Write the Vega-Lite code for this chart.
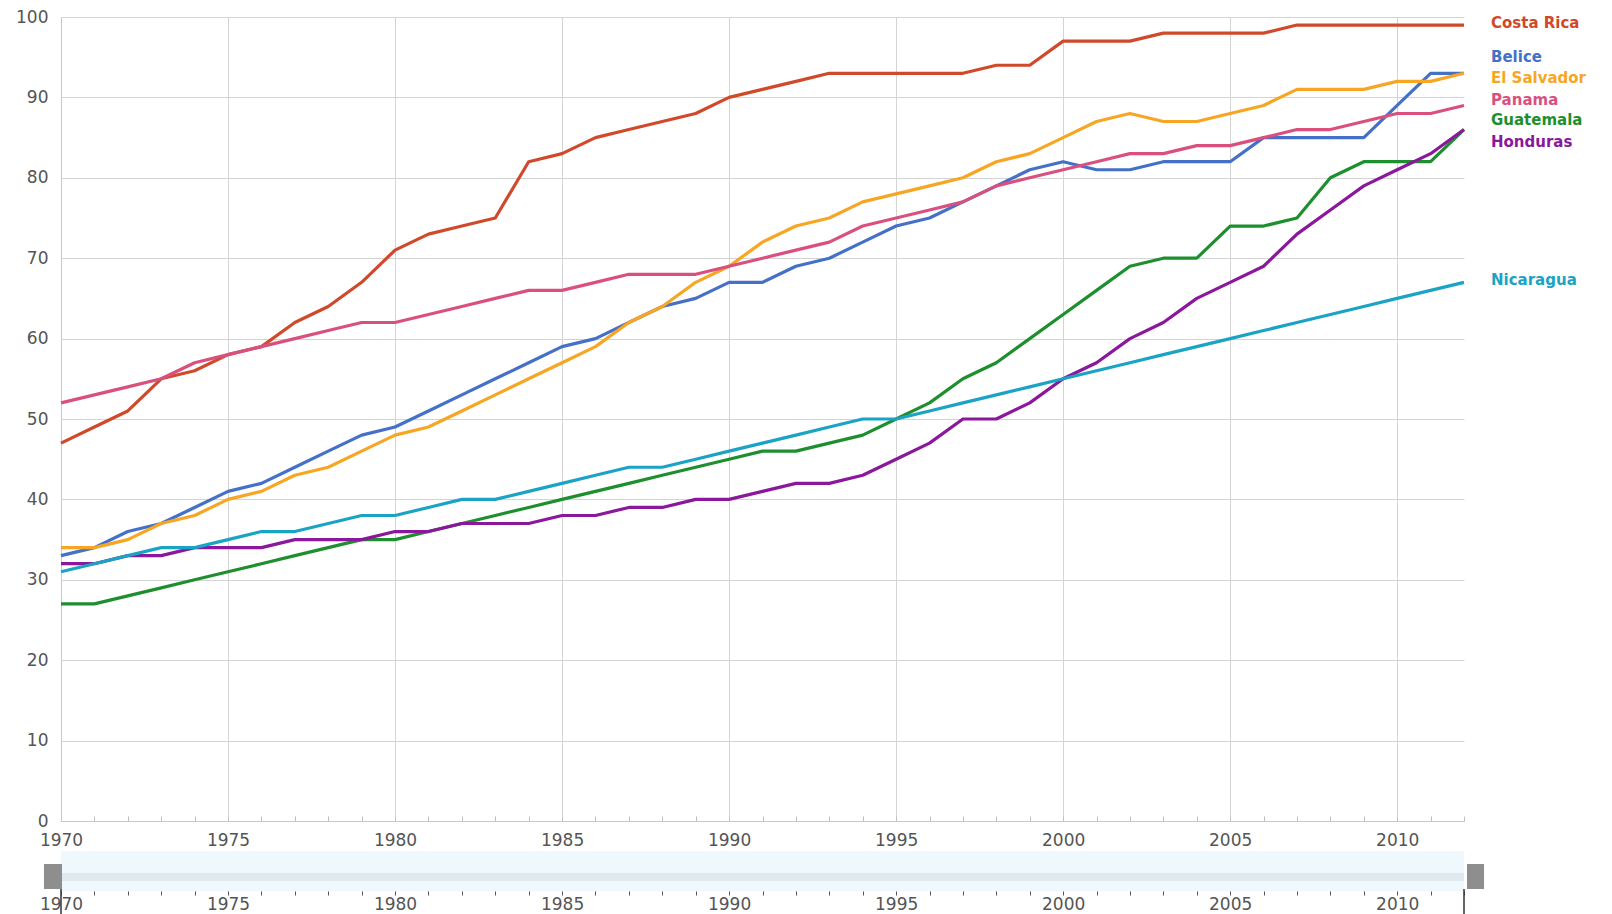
{
  "$schema": "https://vega.github.io/schema/vega-lite/v6.json",
  "padding": {"left": 15, "top": 8, "right": 0, "bottom": 0},
  "bounds": "flush",
  "spacing": 30,
  "background": "white",
  "config": {
    "view": {"stroke": null},
    "font": "DejaVu Sans"
  },
  "datasets": {
    "series": [
      {"year":1970,"Costa Rica":47,"Belice":33,"El Salvador":34,"Panama":52,"Guatemala":27,"Honduras":32,"Nicaragua":31},
      {"year":1971,"Costa Rica":49,"Belice":34,"El Salvador":34,"Panama":53,"Guatemala":27,"Honduras":32,"Nicaragua":32},
      {"year":1972,"Costa Rica":51,"Belice":36,"El Salvador":35,"Panama":54,"Guatemala":28,"Honduras":33,"Nicaragua":33},
      {"year":1973,"Costa Rica":55,"Belice":37,"El Salvador":37,"Panama":55,"Guatemala":29,"Honduras":33,"Nicaragua":34},
      {"year":1974,"Costa Rica":56,"Belice":39,"El Salvador":38,"Panama":57,"Guatemala":30,"Honduras":34,"Nicaragua":34},
      {"year":1975,"Costa Rica":58,"Belice":41,"El Salvador":40,"Panama":58,"Guatemala":31,"Honduras":34,"Nicaragua":35},
      {"year":1976,"Costa Rica":59,"Belice":42,"El Salvador":41,"Panama":59,"Guatemala":32,"Honduras":34,"Nicaragua":36},
      {"year":1977,"Costa Rica":62,"Belice":44,"El Salvador":43,"Panama":60,"Guatemala":33,"Honduras":35,"Nicaragua":36},
      {"year":1978,"Costa Rica":64,"Belice":46,"El Salvador":44,"Panama":61,"Guatemala":34,"Honduras":35,"Nicaragua":37},
      {"year":1979,"Costa Rica":67,"Belice":48,"El Salvador":46,"Panama":62,"Guatemala":35,"Honduras":35,"Nicaragua":38},
      {"year":1980,"Costa Rica":71,"Belice":49,"El Salvador":48,"Panama":62,"Guatemala":35,"Honduras":36,"Nicaragua":38},
      {"year":1981,"Costa Rica":73,"Belice":51,"El Salvador":49,"Panama":63,"Guatemala":36,"Honduras":36,"Nicaragua":39},
      {"year":1982,"Costa Rica":74,"Belice":53,"El Salvador":51,"Panama":64,"Guatemala":37,"Honduras":37,"Nicaragua":40},
      {"year":1983,"Costa Rica":75,"Belice":55,"El Salvador":53,"Panama":65,"Guatemala":38,"Honduras":37,"Nicaragua":40},
      {"year":1984,"Costa Rica":82,"Belice":57,"El Salvador":55,"Panama":66,"Guatemala":39,"Honduras":37,"Nicaragua":41},
      {"year":1985,"Costa Rica":83,"Belice":59,"El Salvador":57,"Panama":66,"Guatemala":40,"Honduras":38,"Nicaragua":42},
      {"year":1986,"Costa Rica":85,"Belice":60,"El Salvador":59,"Panama":67,"Guatemala":41,"Honduras":38,"Nicaragua":43},
      {"year":1987,"Costa Rica":86,"Belice":62,"El Salvador":62,"Panama":68,"Guatemala":42,"Honduras":39,"Nicaragua":44},
      {"year":1988,"Costa Rica":87,"Belice":64,"El Salvador":64,"Panama":68,"Guatemala":43,"Honduras":39,"Nicaragua":44},
      {"year":1989,"Costa Rica":88,"Belice":65,"El Salvador":67,"Panama":68,"Guatemala":44,"Honduras":40,"Nicaragua":45},
      {"year":1990,"Costa Rica":90,"Belice":67,"El Salvador":69,"Panama":69,"Guatemala":45,"Honduras":40,"Nicaragua":46},
      {"year":1991,"Costa Rica":91,"Belice":67,"El Salvador":72,"Panama":70,"Guatemala":46,"Honduras":41,"Nicaragua":47},
      {"year":1992,"Costa Rica":92,"Belice":69,"El Salvador":74,"Panama":71,"Guatemala":46,"Honduras":42,"Nicaragua":48},
      {"year":1993,"Costa Rica":93,"Belice":70,"El Salvador":75,"Panama":72,"Guatemala":47,"Honduras":42,"Nicaragua":49},
      {"year":1994,"Costa Rica":93,"Belice":72,"El Salvador":77,"Panama":74,"Guatemala":48,"Honduras":43,"Nicaragua":50},
      {"year":1995,"Costa Rica":93,"Belice":74,"El Salvador":78,"Panama":75,"Guatemala":50,"Honduras":45,"Nicaragua":50},
      {"year":1996,"Costa Rica":93,"Belice":75,"El Salvador":79,"Panama":76,"Guatemala":52,"Honduras":47,"Nicaragua":51},
      {"year":1997,"Costa Rica":93,"Belice":77,"El Salvador":80,"Panama":77,"Guatemala":55,"Honduras":50,"Nicaragua":52},
      {"year":1998,"Costa Rica":94,"Belice":79,"El Salvador":82,"Panama":79,"Guatemala":57,"Honduras":50,"Nicaragua":53},
      {"year":1999,"Costa Rica":94,"Belice":81,"El Salvador":83,"Panama":80,"Guatemala":60,"Honduras":52,"Nicaragua":54},
      {"year":2000,"Costa Rica":97,"Belice":82,"El Salvador":85,"Panama":81,"Guatemala":63,"Honduras":55,"Nicaragua":55},
      {"year":2001,"Costa Rica":97,"Belice":81,"El Salvador":87,"Panama":82,"Guatemala":66,"Honduras":57,"Nicaragua":56},
      {"year":2002,"Costa Rica":97,"Belice":81,"El Salvador":88,"Panama":83,"Guatemala":69,"Honduras":60,"Nicaragua":57},
      {"year":2003,"Costa Rica":98,"Belice":82,"El Salvador":87,"Panama":83,"Guatemala":70,"Honduras":62,"Nicaragua":58},
      {"year":2004,"Costa Rica":98,"Belice":82,"El Salvador":87,"Panama":84,"Guatemala":70,"Honduras":65,"Nicaragua":59},
      {"year":2005,"Costa Rica":98,"Belice":82,"El Salvador":88,"Panama":84,"Guatemala":74,"Honduras":67,"Nicaragua":60},
      {"year":2006,"Costa Rica":98,"Belice":85,"El Salvador":89,"Panama":85,"Guatemala":74,"Honduras":69,"Nicaragua":61},
      {"year":2007,"Costa Rica":99,"Belice":85,"El Salvador":91,"Panama":86,"Guatemala":75,"Honduras":73,"Nicaragua":62},
      {"year":2008,"Costa Rica":99,"Belice":85,"El Salvador":91,"Panama":86,"Guatemala":80,"Honduras":76,"Nicaragua":63},
      {"year":2009,"Costa Rica":99,"Belice":85,"El Salvador":91,"Panama":87,"Guatemala":82,"Honduras":79,"Nicaragua":64},
      {"year":2010,"Costa Rica":99,"Belice":89,"El Salvador":92,"Panama":88,"Guatemala":82,"Honduras":81,"Nicaragua":65},
      {"year":2011,"Costa Rica":99,"Belice":93,"El Salvador":92,"Panama":88,"Guatemala":82,"Honduras":83,"Nicaragua":66},
      {"year":2012,"Costa Rica":99,"Belice":93,"El Salvador":93,"Panama":89,"Guatemala":86,"Honduras":86,"Nicaragua":67}
    ],
    "labels": [
      {"country":"Costa Rica","year":2012,"pos":99.2},
      {"country":"Belice","year":2012,"pos":95.0},
      {"country":"El Salvador","year":2012,"pos":92.4},
      {"country":"Panama","year":2012,"pos":89.7},
      {"country":"Guatemala","year":2012,"pos":87.2},
      {"country":"Honduras","year":2012,"pos":84.5},
      {"country":"Nicaragua","year":2012,"pos":67.3}
    ],
    "band": [{"from":1970,"to":2012,"lo":10,"hi":18}],
    "handles": [
      {"from":1969.49,"to":1970.03,"lo":2,"hi":27},
      {"from":2012.09,"to":2012.6,"lo":2,"hi":27}
    ],
    "stems": [
      {"year":1970,"lo":-30,"hi":2},
      {"year":2012,"lo":-30,"hi":2}
    ]
  },
  "vconcat": [
    {
      "width": 1403,
      "height": 804,
      "layer": [
        {
          "data": {"name": "series"},
          "transform": [
            {"fold": ["Costa Rica","Belice","El Salvador","Panama","Guatemala","Honduras","Nicaragua"], "as": ["country","value"]}
          ],
          "mark": {"type": "line", "strokeWidth": 3.2, "strokeJoin": "round"},
          "encoding": {
            "x": {
              "field": "year", "type": "quantitative",
              "scale": {"domain": [1970, 2012], "nice": false, "zero": false},
              "axis": {
                "title": null,
                "values": [1970,1971,1972,1973,1974,1975,1976,1977,1978,1979,1980,1981,1982,1983,1984,1985,1986,1987,1988,1989,1990,1991,1992,1993,1994,1995,1996,1997,1998,1999,2000,2001,2002,2003,2004,2005,2006,2007,2008,2009,2010,2011,2012],
                "tickCount": 100,
                "format": "d",
                "labelExpr": "datum.value % 5 === 0 ? datum.label : ''",
                "labelOverlap": false,
                "labelFlush": false,
                "labelFont": "DejaVu Sans",
                "labelFontSize": 17,
                "labelColor": "#555555",
                "labelPadding": 16,
                "domainColor": "#c8c8c8",
                "grid": true,
                "gridColor": "#d4d4d4",
                "gridOpacity": {"condition": {"test": "datum.value % 5 === 0", "value": 1}, "value": 0},
                "tickColor": "#c0c0c0",
                "tickSize": -5
              }
            },
            "y": {
              "field": "value", "type": "quantitative",
              "scale": {"domain": [0, 100], "nice": false},
              "axis": {
                "title": null,
                "values": [0,10,20,30,40,50,60,70,80,90,100],
                "tickCount": 100,
                "labelFlush": false,
                "labelFont": "DejaVu Sans",
                "labelFontSize": 17,
                "labelColor": "#555555",
                "labelPadding": 13,
                "ticks": false,
                "tickSize": 0,
                "domainColor": "#c8c8c8",
                "gridColor": "#d4d4d4"
              }
            },
            "color": {
              "field": "country", "type": "nominal",
              "scale": {
                "domain": ["Costa Rica","Belice","El Salvador","Panama","Guatemala","Honduras","Nicaragua"],
                "range": ["#d0492a","#4470c8","#f7a623","#d9507f","#1e8f2e","#8b179c","#1ba3c6"]
              },
              "legend": null
            },
            "detail": {"field": "country"}
          }
        },
        {
          "data": {"name": "labels"},
          "mark": {"type": "text", "align": "left", "baseline": "middle", "dx": 27, "font": "DejaVu Sans", "fontSize": 15, "fontWeight": "bold"},
          "encoding": {
            "x": {"field": "year", "type": "quantitative"},
            "y": {"field": "pos", "type": "quantitative"},
            "text": {"field": "country"},
            "color": {"field": "country", "type": "nominal"}
          }
        }
      ]
    },
    {
      "width": 1403,
      "height": 40,
      "view": {"fill": "#eff8fc", "stroke": null},
      "layer": [
        {
          "data": {"name": "band"},
          "mark": {"type": "rect", "color": "#dde9ee"},
          "encoding": {
            "x": {
              "field": "from", "type": "quantitative",
              "scale": {"domain": [1970, 2012], "nice": false, "zero": false},
              "axis": {
                "title": null,
                "values": [1970,1971,1972,1973,1974,1975,1976,1977,1978,1979,1980,1981,1982,1983,1984,1985,1986,1987,1988,1989,1990,1991,1992,1993,1994,1995,1996,1997,1998,1999,2000,2001,2002,2003,2004,2005,2006,2007,2008,2009,2010,2011,2012],
                "tickCount": 100,
                "format": "d",
                "labelExpr": "datum.value % 5 === 0 ? datum.label : ''",
                "labelOverlap": false,
                "labelFlush": false,
                "labelFont": "DejaVu Sans",
                "labelFontSize": 17,
                "labelColor": "#555555",
                "labelPadding": 1,
                "domain": false,
                "grid": false,
                "tickColor": "#555555",
                "tickSize": 4
              }
            },
            "x2": {"field": "to"},
            "y": {"field": "lo", "type": "quantitative", "scale": {"domain": [0, 40], "nice": false}, "axis": null},
            "y2": {"field": "hi"}
          }
        },
        {
          "data": {"name": "handles"},
          "mark": {"type": "rect", "color": "#8e8e8e"},
          "encoding": {
            "x": {"field": "from", "type": "quantitative"},
            "x2": {"field": "to"},
            "y": {"field": "lo", "type": "quantitative"},
            "y2": {"field": "hi"}
          }
        },
        {
          "data": {"name": "stems"},
          "mark": {"type": "rule", "color": "#333333", "strokeWidth": 1.5},
          "encoding": {
            "x": {"field": "year", "type": "quantitative"},
            "y": {"field": "lo", "type": "quantitative"},
            "y2": {"field": "hi"}
          }
        }
      ]
    }
  ]
}
